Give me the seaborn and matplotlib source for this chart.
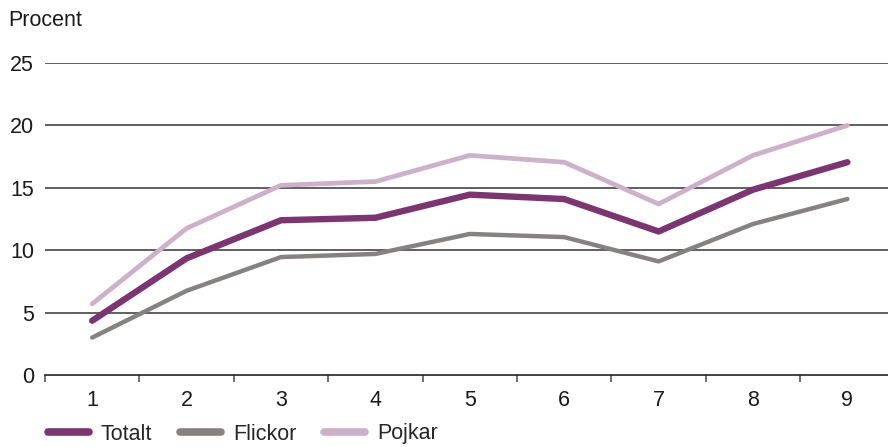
import matplotlib
matplotlib.use("Agg")
import matplotlib.pyplot as plt
import seaborn as sns
import pandas as pd

categories = [1, 2, 3, 4, 5, 6, 7, 8, 9]
totalt = [4.35, 9.35, 12.4, 12.6, 14.45, 14.1, 11.5, 14.85, 17.05]
flickor = [3.0, 6.75, 9.45, 9.7, 11.3, 11.05, 9.1, 12.1, 14.1]
pojkar = [5.7, 11.75, 15.2, 15.5, 17.6, 17.05, 13.7, 17.6, 20.0]
series_names = ["Totalt", "Flickor", "Pojkar"]
colors = ["#7B3570", "#858280", "#CDB0C9"]
widths = [4.6, 3.2, 3.4]
yticks = [0, 5, 10, 15, 20, 25]

df = pd.DataFrame({
    "x": categories * 3,
    "value": totalt + flickor + pojkar,
    "serie": sum([[n] * len(categories) for n in series_names], []),
})

sns.set_theme(style="white")
plt.rcParams["font.family"] = ["Liberation Sans", "DejaVu Sans"]

fig = plt.figure(figsize=(8.88, 4.47), dpi=100)
ax = fig.add_axes([45 / 888, (447 - 375) / 447, (888 - 45) / 888, 312 / 447])

# draw in reverse so Totalt is on top
for name, col, lw in reversed(list(zip(series_names, colors, widths))):
    sub = df[df["serie"] == name]
    sns.lineplot(data=sub, x="x", y="value", ax=ax, color=col, linewidth=lw,
                 label=name, solid_capstyle="round", solid_joinstyle="round",
                 legend=False)

ax.set_ylim(0, 25)
ax.set_xlim(0.5, 0.5 + (888 - 45) / 94.4)
ax.set_yticks(yticks)
ax.set_xticks(categories)
ax.set_xticks([c - 0.5 for c in categories], minor=True)
ax.set_xticklabels([str(c) for c in categories])
ax.set_xlabel("")
ax.set_ylabel("")
for y in yticks[1:]:
    ax.axhline(y, color="#444444", linewidth=1.2, zorder=0)

for s in ["top", "right", "left"]:
    ax.spines[s].set_visible(False)
ax.spines["bottom"].set_color("#222222")
ax.spines["bottom"].set_linewidth(1.2)

ax.tick_params(axis="y", length=0, pad=8, labelsize=15.5, colors="#1a1a1a")
ax.tick_params(axis="x", which="major", length=0, pad=11, labelsize=15.5, colors="#1a1a1a")
ax.tick_params(axis="x", which="minor", length=5, width=1.2, color="#555555", bottom=True)

fig.text(8 / 888, 1 - 21 / 447, "Procent", fontsize=15.5, va="center", ha="left", color="#1a1a1a")

from matplotlib.lines import Line2D
handles = [Line2D([0], [0], color=c, linewidth=5.5, solid_capstyle="round") for c in colors]
fig.legend(handles, series_names, loc="center left", bbox_to_anchor=(48 / 888, 1 - 434 / 447),
           ncol=3, frameon=False, fontsize=15.5, handlelength=1.9, handletextpad=0.55,
           columnspacing=1.3, borderaxespad=0, borderpad=0)

fig.savefig("out.png", dpi=100)
